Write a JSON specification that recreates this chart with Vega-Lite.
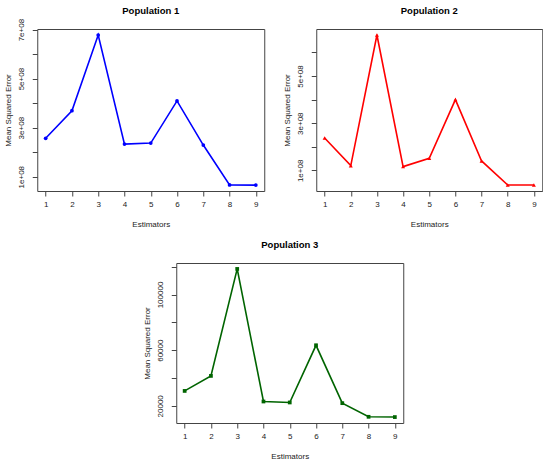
{
  "$schema": "https://vega.github.io/schema/vega-lite/v6.json",
  "background": "white",
  "padding": {"left": 3, "top": 5, "right": 0, "bottom": 0},
  "datasets": {
    "pop1": [
      {"estimator": 1, "mse": 256500000},
      {"estimator": 2, "mse": 369000000},
      {"estimator": 3, "mse": 678000000},
      {"estimator": 4, "mse": 233000000},
      {"estimator": 5, "mse": 237000000},
      {"estimator": 6, "mse": 409000000},
      {"estimator": 7, "mse": 229000000},
      {"estimator": 8, "mse": 66000000},
      {"estimator": 9, "mse": 65500000}
    ],
    "pop2": [
      {"estimator": 1, "mse": 237000000},
      {"estimator": 2, "mse": 120000000},
      {"estimator": 3, "mse": 674000000},
      {"estimator": 4, "mse": 116000000},
      {"estimator": 5, "mse": 151000000},
      {"estimator": 6, "mse": 400000000},
      {"estimator": 7, "mse": 140000000},
      {"estimator": 8, "mse": 38000000},
      {"estimator": 9, "mse": 38000000}
    ],
    "pop3": [
      {"estimator": 1, "mse": 30700},
      {"estimator": 2, "mse": 41500},
      {"estimator": 3, "mse": 118400},
      {"estimator": 4, "mse": 23100},
      {"estimator": 5, "mse": 22400},
      {"estimator": 6, "mse": 63500},
      {"estimator": 7, "mse": 21900},
      {"estimator": 8, "mse": 12100},
      {"estimator": 9, "mse": 11900}
    ]
  },
  "center": true,
  "spacing": 10,
  "vconcat": [
    {
      "spacing": 17,
      "hconcat": [
        {
          "width": 227,
          "height": 162,
          "title": {"text": "Population 1", "offset": 3},
          "data": {"name": "pop1"},
          "mark": {
            "type": "line",
            "color": "#0000ff",
            "strokeWidth": 1.6,
            "point": {"filled": true, "shape": "circle", "size": 14, "color": "#0000ff"}
          },
          "encoding": {
            "x": {
              "field": "estimator",
              "type": "quantitative",
              "scale": {"domain": [0.68, 9.32], "nice": false, "zero": false},
              "axis": {"values": [1, 2, 3, 4, 5, 6, 7, 8, 9], "format": "d", "title": "Estimators"}
            },
            "y": {
              "field": "mse",
              "type": "quantitative",
              "scale": {"domain": [41500000, 702500000], "nice": false, "zero": false},
              "axis": {
                "values": [100000000, 200000000, 300000000, 400000000, 500000000, 600000000, 700000000],
                "labelExpr": "round(datum.value / 1e8) % 2 == 1 ? format(round(datum.value / 1e8), 'd') + 'e+08' : ''",
                "title": "Mean Squared Error"
              }
            }
          }
        },
        {
          "width": 226,
          "height": 162,
          "title": "Population 2",
          "data": {"name": "pop2"},
          "mark": {
            "type": "line",
            "color": "#ff0000",
            "strokeWidth": 1.6,
            "point": {"filled": true, "shape": "triangle-up", "size": 16, "color": "#ff0000"}
          },
          "encoding": {
            "x": {
              "field": "estimator",
              "type": "quantitative",
              "scale": {"domain": [0.68, 9.32], "nice": false, "zero": false},
              "axis": {"values": [1, 2, 3, 4, 5, 6, 7, 8, 9], "format": "d", "title": "Estimators"}
            },
            "y": {
              "field": "mse",
              "type": "quantitative",
              "scale": {"domain": [12600000, 699400000], "nice": false, "zero": false},
              "axis": {
                "values": [100000000, 200000000, 300000000, 400000000, 500000000, 600000000],
                "labelExpr": "round(datum.value / 1e8) % 2 == 1 ? format(round(datum.value / 1e8), 'd') + 'e+08' : ''",
                "title": "Mean Squared Error"
              }
            }
          }
        }
      ]
    },
    {
      "width": 227,
      "height": 160,
      "title": "Population 3",
      "data": {"name": "pop3"},
      "mark": {
        "type": "line",
        "color": "#006400",
        "strokeWidth": 1.6,
        "point": {"filled": true, "shape": "square", "size": 14, "color": "#006400"}
      },
      "encoding": {
        "x": {
          "field": "estimator",
          "type": "quantitative",
          "scale": {"domain": [0.68, 9.32], "nice": false, "zero": false},
          "axis": {"values": [1, 2, 3, 4, 5, 6, 7, 8, 9], "format": "d", "title": "Estimators"}
        },
        "y": {
          "field": "mse",
          "type": "quantitative",
          "scale": {"domain": [7640, 122660], "nice": false, "zero": false},
          "axis": {
            "values": [20000, 40000, 60000, 80000, 100000, 120000],
            "labelExpr": "round(datum.value / 20000) % 2 == 1 ? format(datum.value, 'd') : ''",
            "title": "Mean Squared Error"
          }
        }
      }
    }
  ],
  "config": {
    "view": {"stroke": "#444444", "strokeWidth": 1},
    "axis": {
      "grid": false,
      "domain": false,
      "ticks": true,
      "tickColor": "#444444",
      "tickSize": 5,
      "labelFont": "Liberation Sans",
      "labelFontSize": 8,
      "labelColor": "#222222",
      "titleFont": "Liberation Sans",
      "titleFontSize": 8,
      "titleFontWeight": "normal",
      "titleColor": "#222222"
    },
    "axisX": {"labelPadding": 4, "titlePadding": 12},
    "axisY": {
      "labelAngle": -90,
      "labelAlign": "center",
      "labelBaseline": "bottom",
      "labelPadding": 7,
      "titlePadding": 5
    },
    "title": {
      "font": "Liberation Sans",
      "fontSize": 9.5,
      "fontWeight": "bold",
      "color": "#000000",
      "offset": 14
    }
  }
}
